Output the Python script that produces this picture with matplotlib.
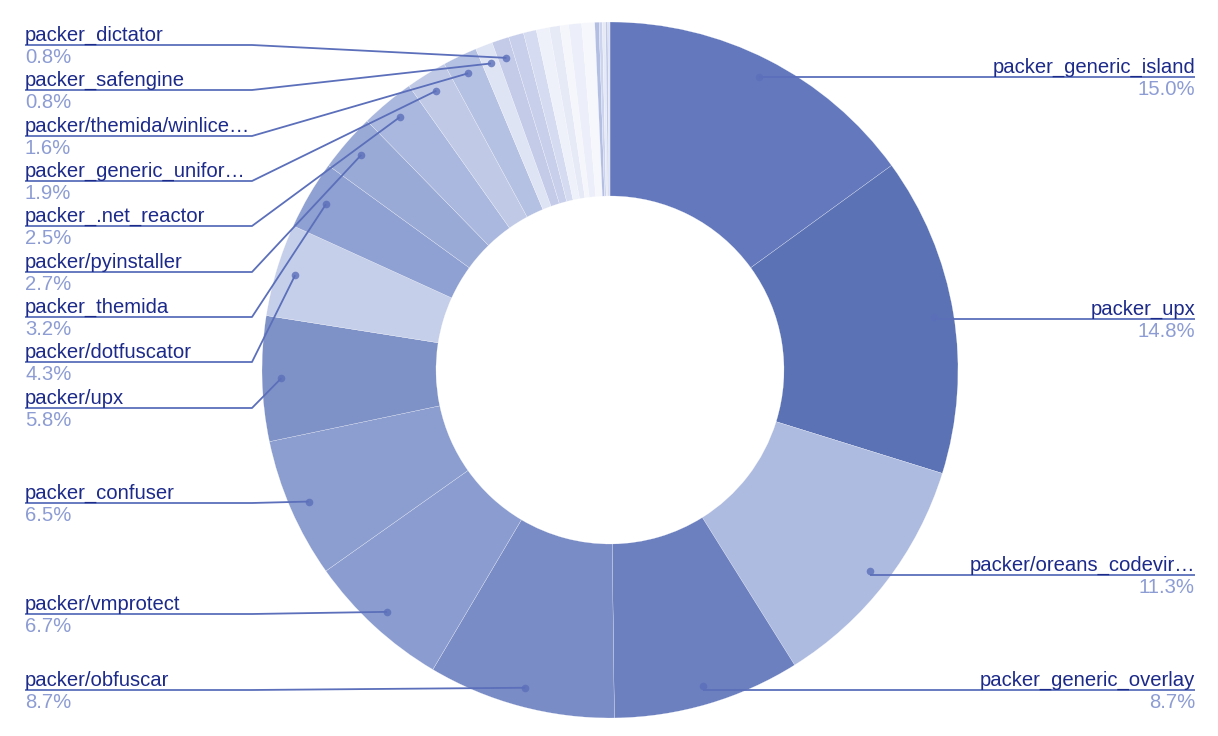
import numpy as np
import matplotlib
matplotlib.use("Agg")
import matplotlib.pyplot as plt

plt.rcParams["font.family"] = ["Liberation Sans", "DejaVu Sans"]

# ---------- data (clockwise from 12 o'clock) ----------
labels = [
    "packer_generic_island", "packer_upx", "packer/oreans_codevir\u2026",
    "packer_generic_overlay", "packer/obfuscar", "packer/vmprotect",
    "packer_confuser", "packer/upx", "packer/dotfuscator", "packer_themida",
    "packer/pyinstaller", "packer_.net_reactor", "packer_generic_unifor\u2026",
    "packer/themida/winlice\u2026", "packer_safengine", "packer_dictator",
]
values = [15.0, 14.8, 11.3, 8.7, 8.7, 6.7, 6.5, 5.8, 4.3, 3.2,
          2.7, 2.5, 1.9, 1.6, 0.8, 0.8]
# unlabeled small slices near the top
small_values = [0.7, 0.6, 0.6, 0.5, 0.4, 0.6, 0.6, 0.2, 0.15, 0.15, 0.1, 0.1]

colors = ["#6479bd", "#5b72b5", "#aebbe0", "#6c80c0", "#7a8cc6", "#8b9dd0",
          "#8c9ed0", "#7f92c8", "#c5cfea", "#8fa0d2", "#9aaad6", "#aab7de",
          "#c0cae7", "#b5c1e3", "#dfe4f4", "#c3cbe9"]
small_colors = ["#c7cfeb", "#d5dbf0", "#eef1fa", "#e6eaf7", "#f4f6fc", "#eceff9",
                "#f6f7fc", "#b3bee3", "#cdd5ee", "#e6eaf6", "#c0cae8", "#dde2f3"]

# label line heights in pixels (top-down), and which side
label_y = [77, 319, 575, 690, 690, 614, 503, 408, 362, 317,
           272, 226, 181, 136, 90, 45]
side = ["R", "R", "R", "R", "L", "L", "L", "L", "L", "L",
        "L", "L", "L", "L", "L", "L"]

W, H = 1218, 736
CX, CY = 610, H - 370
R = 348

fig = plt.figure(figsize=(W / 100, H / 100), dpi=100)
ax = fig.add_axes([0, 0, 1, 1])

all_vals = values + small_values
all_cols = colors + small_colors
wedges, _ = ax.pie(all_vals, colors=all_cols, startangle=90, counterclock=False,
                   center=(CX, CY), radius=R,
                   wedgeprops=dict(width=R / 2, edgecolor="white", linewidth=0.15))
ax.set_xlim(0, W)
ax.set_ylim(0, H)
ax.set_aspect("equal")
ax.axis("off")

line_col = "#5b6fba"
name_col = "#1c2a8a"
pct_col = "#8d9dd4"
fs = 14.6

for i, lab in enumerate(labels):
    w = wedges[i]
    ang = np.deg2rad((w.theta1 + w.theta2) / 2)
    dx = CX + 0.945 * R * np.cos(ang)
    dy = CY + 0.945 * R * np.sin(ang)
    ly = H - label_y[i]
    if side[i] == "R":
        xs, ys = [dx, 1195], [ly, ly]
        tx, ha = 1195, "right"
    else:
        xs, ys = [25, 252, dx], [ly, ly, dy]
        tx, ha = 25, "left"
    ax.plot(xs, ys, color=line_col, lw=1.3, solid_capstyle="butt", zorder=3)
    ax.plot(dx, dy, "o", color=line_col, ms=5.5, alpha=0.8, mew=0, zorder=4)
    ax.text(tx, ly + 4, lab, ha=ha, va="baseline", fontsize=fs, color=name_col)
    ax.text(tx, ly - 3, f"{values[i]:.1f}%", ha=ha, va="top", fontsize=fs, color=pct_col)

fig.savefig("out.png", dpi=100)
